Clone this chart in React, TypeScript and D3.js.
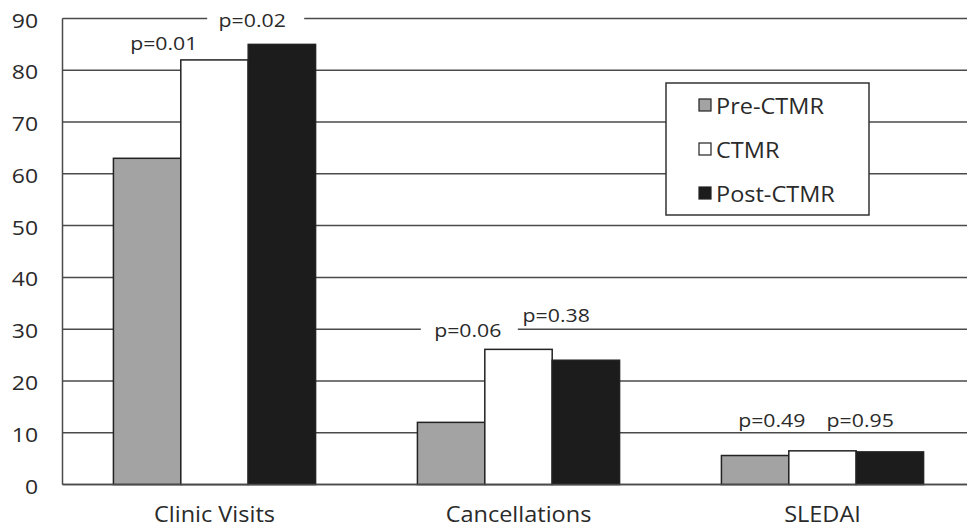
import React from "react";
import * as d3 from "d3";

const categories = ["Clinic Visits", "Cancellations", "SLEDAI"];
const seriesNames = ["Pre-CTMR", "CTMR", "Post-CTMR"];
const preCTMR = [63, 12, 5.6];
const ctmr = [82, 26.1, 6.5];
const postCTMR = [85, 24, 6.3];
const yTicks = [0, 10, 20, 30, 40, 50, 60, 70, 80, 90];
const pFirst = ["p=0.01", "p=0.06", "p=0.49"];
const pSecond = ["p=0.02", "p=0.38", "p=0.95"];

const W = 967;
const H = 529;
const FONT = "'Open Sans', 'DejaVu Sans', sans-serif";
const TEXT = "#2a2a2a";
const GRID = "#4a4a4a";
const FILLS = ["#a3a3a3", "#ffffff", "#1c1c1c"];
const SX = 1.12;

// annotation layout (data-unit heights)
const pFirstY = [83.9, 28.5, 11.1];
const pSecondY = [88.3, 31.4, 11.1];

function T({ x, y, anchor = "middle", size, children, baseline }: any) {
  return (
    <text
      transform={`translate(${x},${y}) scale(${SX},1)`}
      textAnchor={anchor}
      fontSize={size}
      fontFamily={FONT}
      fill={TEXT}
      dominantBaseline={baseline}
    >
      {children}
    </text>
  );
}

export default function App() {
  const series = [preCTMR, ctmr, postCTMR];
  const x0 = d3
    .scaleBand<string>()
    .domain(categories)
    .range([62.5, 974.5])
    .paddingInner(0.335)
    .paddingOuter(0.1675);
  const x1 = d3.scaleBand<string>().domain(seriesNames).range([0, x0.bandwidth()]);
  const y = d3.scaleLinear().domain([0, 90]).range([484.5, 18.5]);
  const left = 62.5;
  const right = W;

  return (
    <svg
      width={W}
      height={H}
      style={{ position: "absolute", left: 0, top: 0, background: "#fff" }}
    >
      <rect x={0} y={0} width={W} height={H} fill="#fff" />
      {/* gridlines */}
      {yTicks.map((t) => (
        <line key={t} x1={left} x2={right} y1={y(t)} y2={y(t)} stroke={GRID} strokeWidth={1.5} />
      ))}
      <line x1={left} x2={left} y1={y(90)} y2={y(0)} stroke={GRID} strokeWidth={1.5} />
      {/* tick labels */}
      {yTicks.map((t) => (
        <T key={t} x={38} y={y(t) + 1} anchor="end" size={20.5} baseline="central">
          {t}
        </T>
      ))}
      {/* bars */}
      {categories.map((c, ci) => (
        <g key={c} transform={`translate(${x0(c)},0)`}>
          {series.map((s, si) => (
            <rect
              key={si}
              x={x1(seriesNames[si])}
              y={y(s[ci])}
              width={x1.bandwidth()}
              height={y(0) - y(s[ci])}
              fill={FILLS[si]}
              stroke="#222"
              strokeWidth={1.5}
            />
          ))}
        </g>
      ))}
      <line x1={left} x2={right} y1={y(0)} y2={y(0)} stroke={GRID} strokeWidth={1.5} />
      {/* p-values */}
      {categories.map((c, ci) => {
        const b1 = (x0(c) as number) + (x1("CTMR") as number);
        const b2 = (x0(c) as number) + (x1("Post-CTMR") as number);
        const cx1 = b1 - 17;
        const cx2 = b2 + 4;
        return (
          <g key={c}>
            {ci === 1 && (
              <rect x={cx1 - 47} y={y(pFirstY[ci]) - 20} width={97} height={24} fill="#fff" />
            )}
            {ci === 0 && (
              <rect x={cx2 - 45} y={y(pSecondY[ci]) - 20} width={97} height={24} fill="#fff" />
            )}
            <T x={cx1} y={y(pFirstY[ci])} size={19}>
              {pFirst[ci]}
            </T>
            <T x={cx2} y={y(pSecondY[ci])} size={19}>
              {pSecond[ci]}
            </T>
          </g>
        );
      })}
      {/* category labels */}
      {categories.map((c) => (
        <T key={c} x={(x0(c) as number) + x0.bandwidth() / 2} y={522} size={21}>
          {c}
        </T>
      ))}
      {/* legend */}
      <g>
        <rect x={666} y={83} width={203} height={132} fill="#fff" stroke="#333" strokeWidth={1.5} />
        {seriesNames.map((n, i) => (
          <g key={n} transform={`translate(699,${105 + i * 44})`}>
            <rect x={0} y={-6} width={12} height={12} fill={FILLS[i]} stroke="#222" strokeWidth={1.2} />
            <T x={17} y={1} anchor="start" size={21} baseline="central">
              {n}
            </T>
          </g>
        ))}
      </g>
    </svg>
  );
}
